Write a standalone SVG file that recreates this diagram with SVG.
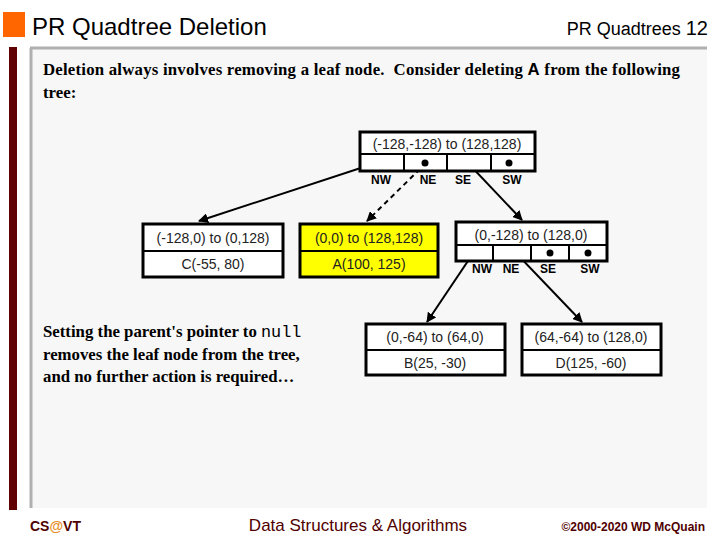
<svg xmlns="http://www.w3.org/2000/svg" width="720" height="540" viewBox="0 0 720 540">
<defs>
<style>
.box{fill:#ffffff;stroke:#000;stroke-width:3}
.hl{fill:#ffff00;stroke:#000;stroke-width:3}
.div{stroke:#000;stroke-width:2}
.t{font-family:"Liberation Sans",Arial,sans-serif;font-size:14px;fill:#222;text-anchor:middle}
.lab{font-family:"Liberation Sans",Arial,sans-serif;font-size:12px;font-weight:bold;fill:#000;text-anchor:middle}
.ser{font-family:"Liberation Serif","Times New Roman",serif;font-size:16.8px;font-weight:bold;fill:#000}
.edge{stroke:#000;stroke-width:2;fill:none;marker-end:url(#ah)}
.dash{stroke-dasharray:5,4}
</style>
<marker id="ah" viewBox="0 0 10 10" refX="9" refY="5" markerWidth="5" markerHeight="5" orient="auto" markerUnits="strokeWidth">
<path d="M0,0 L10,5 L0,10 z" fill="#000"/>
</marker>
</defs>
<rect width="720" height="540" fill="#ffffff"/>
<!-- header -->
<rect x="3" y="12" width="22" height="25" fill="#ff6600"/>
<text x="32" y="35" font-family="'Liberation Sans',Arial,sans-serif" font-size="24" fill="#000">PR Quadtree Deletion</text>
<text x="708" y="35" font-family="'Liberation Sans',Arial,sans-serif" fill="#000" text-anchor="end"><tspan font-size="18">PR Quadtrees </tspan><tspan font-size="20">12</tspan></text>
<!-- panel -->
<rect x="9" y="47" width="8" height="463" fill="#600000"/>
<rect x="30" y="48" width="677" height="460" fill="#f7f7f7"/>
<line x1="30" y1="48" x2="707" y2="48" stroke="#b0b0b0" stroke-width="3"/>
<line x1="31" y1="48" x2="31" y2="508" stroke="#b0b0b0" stroke-width="3"/>
<text class="ser" x="43" y="75" xml:space="preserve" textLength="637" lengthAdjust="spacing">Deletion always involves removing a leaf node.  Consider deleting <tspan font-family="'Liberation Sans',Arial,sans-serif">A</tspan> from the following</text>
<text class="ser" x="43" y="98">tree:</text>
<text class="ser" x="43" y="337">Setting the parent's pointer to <tspan font-family="'Liberation Mono','Courier New',monospace" font-weight="normal">null</tspan></text>
<text class="ser" x="43" y="360">removes the leaf node from the tree,</text>
<text class="ser" x="43" y="382">and no further action is required…</text>
<!-- connectors -->
<g id="connectors">
<line class="edge" x1="379" y1="162" x2="199" y2="221"/>
<line class="edge dash" x1="420" y1="169" x2="367" y2="221"/>
<line class="edge" x1="467" y1="162" x2="522" y2="220"/>
<line class="edge" x1="474" y1="252" x2="427" y2="322"/>
<line class="edge" x1="515" y1="252" x2="582" y2="322"/>
</g>
<!-- root -->
<g id="root">
<rect class="box" x="360" y="132" width="175" height="39"/>
<line class="div" x1="360" y1="154" x2="535" y2="154"/>
<line class="div" x1="404" y1="154" x2="404" y2="171"/>
<line class="div" x1="447" y1="154" x2="447" y2="171"/>
<line class="div" x1="491" y1="154" x2="491" y2="171"/>
<circle cx="425" cy="163" r="3.5" fill="#000"/>
<circle cx="509" cy="163" r="3.5" fill="#000"/>
<text class="t" x="447" y="149">(-128,-128) to (128,128)</text>
<text class="lab" x="381" y="184">NW</text>
<text class="lab" x="428" y="184">NE</text>
<text class="lab" x="463" y="184">SE</text>
<text class="lab" x="512" y="184">SW</text>
</g>
<!-- C leaf -->
<g id="nodeC">
<rect class="box" x="143" y="224" width="140" height="53"/>
<line class="div" x1="143" y1="251" x2="283" y2="251"/>
<text class="t" x="213" y="243">(-128,0) to (0,128)</text>
<text class="t" x="213" y="269">C(-55, 80)</text>
</g>
<!-- A leaf -->
<g id="nodeA">
<rect class="hl" x="300" y="224" width="138" height="53"/>
<line class="div" x1="300" y1="251" x2="438" y2="251"/>
<text class="t" x="369" y="243">(0,0) to (128,128)</text>
<text class="t" x="369" y="269">A(100, 125)</text>
</g>
<!-- SE internal -->
<g id="nodeSE">
<rect class="box" x="456" y="222" width="151" height="39"/>
<line class="div" x1="456" y1="245" x2="607" y2="245"/>
<line class="div" x1="493" y1="245" x2="493" y2="261"/>
<line class="div" x1="531" y1="245" x2="531" y2="261"/>
<line class="div" x1="569" y1="245" x2="569" y2="261"/>
<circle cx="550" cy="253" r="3.5" fill="#000"/>
<circle cx="588" cy="253" r="3.5" fill="#000"/>
<text class="t" x="531" y="240">(0,-128) to (128,0)</text>
<text class="lab" x="482" y="273">NW</text>
<text class="lab" x="511" y="273">NE</text>
<text class="lab" x="548" y="273">SE</text>
<text class="lab" x="590" y="273">SW</text>
</g>
<!-- B leaf -->
<g id="nodeB">
<rect class="box" x="366" y="324" width="139" height="51"/>
<line class="div" x1="366" y1="350" x2="505" y2="350"/>
<text class="t" x="435" y="342">(0,-64) to (64,0)</text>
<text class="t" x="435" y="368">B(25, -30)</text>
</g>
<!-- D leaf -->
<g id="nodeD">
<rect class="box" x="522" y="324" width="139" height="51"/>
<line class="div" x1="522" y1="350" x2="661" y2="350"/>
<text class="t" x="591" y="342">(64,-64) to (128,0)</text>
<text class="t" x="591" y="368">D(125, -60)</text>
</g>
<!-- footer -->
<text x="30" y="531" font-family="'Liberation Sans',Arial,sans-serif" font-size="14" font-weight="bold" fill="#500000">CS<tspan fill="#e8902a">@</tspan>VT</text>
<text x="358" y="531" font-family="'Liberation Sans',Arial,sans-serif" font-size="17" fill="#500000" text-anchor="middle">Data Structures &amp; Algorithms</text>
<text x="705" y="531" font-family="'Liberation Sans',Arial,sans-serif" font-size="12" font-weight="bold" fill="#500000" text-anchor="end">©2000-2020 WD McQuain</text>
</svg>
